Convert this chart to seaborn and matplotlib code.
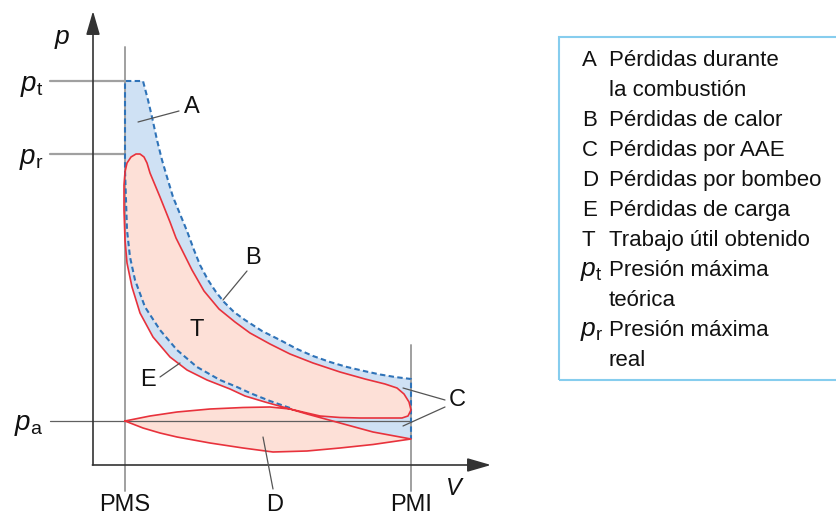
import numpy as np
import pandas as pd
import matplotlib
matplotlib.use("Agg")
import matplotlib.pyplot as plt
import seaborn as sns
from matplotlib.patches import Rectangle, Polygon

sns.set_theme(style="white")
plt.rcParams['font.family'] = ['Liberation Sans', 'DejaVu Sans']
plt.rcParams['mathtext.fontset'] = 'custom'
plt.rcParams['mathtext.rm'] = 'Liberation Sans'
plt.rcParams['mathtext.it'] = 'Liberation Sans:italic'

# ---------------- data (schematic p-V diagram) ----------------
V_PMS = 3.2
V_PMI = 31.8
p_t = 38.4
p_r = 31.1
p_a = 4.4

# real cycle: intake (PMS -> PMI), lower arc of pumping loop
intake_V = [3.2, 5.0, 6.7, 8.4, 11.7, 15.0, 18.0, 21.4, 24.7, 28.0, 31.8]
intake_p = [4.4, 3.7, 3.2, 2.8, 2.2, 1.7, 1.3, 1.4, 1.7, 2.05, 2.6]
# common compression start (PMI -> crossing point)
comp_line_V = [31.8, 28.0, 24.7, 21.4, 19.7]
comp_line_p = [2.6, 3.3, 4.2, 5.1, 5.6]
# real compression (crossing -> near PMS)
real_comp_V = [17.2, 15.2, 13.7, 11.4, 9.4, 7.7, 6.0, 4.7, 3.9, 3.4, 3.2, 3.1, 3.1]
real_comp_p = [6.3, 6.9, 7.6, 8.5, 9.5, 10.8, 12.8, 15.2, 17.8, 20.2, 22.5, 25.5, 28.0]
# real combustion + expansion + exhaust opening (back to crossing)
real_exp_V = [3.2, 3.4, 3.8, 4.3, 4.7, 5.1, 5.4, 5.7, 6.2, 6.7, 7.7, 8.3, 8.9, 9.9,
              11.1, 12.6, 14.2, 15.7, 17.7, 19.7, 22.0, 24.7, 27.2, 29.2, 30.4, 31.1,
              31.6, 31.8, 31.5, 30.9, 28.7, 26.7, 24.7, 22.7, 21.4, 19.7]
real_exp_p = [29.3, 30.2, 30.8, 31.1, 31.1, 30.8, 30.2, 29.2, 28.0, 26.8, 24.3, 22.7,
              21.5, 19.5, 17.4, 15.6, 14.3, 13.2, 12.1, 11.1, 10.2, 9.3, 8.6, 8.1,
              7.7, 7.1, 6.3, 5.5, 4.9, 4.7, 4.7, 4.7, 4.75, 4.9, 5.2, 5.6]
# exhaust stroke (crossing -> PMS), upper arc of pumping loop
exhaust_V = [17.7, 15.0, 11.7, 8.4, 5.7, 4.2, 3.2]
exhaust_p = [5.8, 5.75, 5.6, 5.3, 4.9, 4.6, 4.4]
# theoretical cycle
theo_comp_V = [19.7, 17.7, 15.7, 14.4, 12.7, 10.4, 8.4, 6.7, 5.2, 4.2, 3.7, 3.4, 3.3, 3.2, 3.2]
theo_comp_p = [5.7, 6.4, 7.2, 7.8, 8.5, 9.8, 11.5, 13.5, 15.8, 18.5, 20.8, 23.5, 26.5, 29.5, 38.4]
theo_exp_V = [5.0, 5.5, 5.9, 6.4, 6.9, 7.4, 8.0, 8.7, 9.4, 10.1, 10.7, 11.5, 12.3, 13.1,
              14.1, 15.2, 16.9, 18.7, 20.4, 22.0, 23.7, 25.4, 27.1, 28.7, 30.2, 31.8, 31.8]
theo_exp_p = [38.4, 36.5, 34.8, 32.5, 30.5, 28.8, 26.8, 25.1, 23.4, 21.5, 20.0, 18.5,
              17.3, 16.3, 15.3, 14.5, 13.4, 12.5, 11.6, 10.9, 10.3, 9.8, 9.4, 9.05,
              8.8, 8.6, 2.6]

level_labels = [r'$p_\mathrm{t}$', r'$p_\mathrm{r}$', r'$p_\mathrm{a}$']
x_labels = ['PMS', 'PMI']

legend_keys = ['A', 'B', 'C', 'D', 'E', 'T', r'$p_\mathrm{t}$', r'$p_\mathrm{r}$']
legend_texts = ['Pérdidas durante\nla combustión', 'Pérdidas de calor', 'Pérdidas por AAE',
                'Pérdidas por bombeo', 'Pérdidas de carga', 'Trabajo útil obtenido',
                'Presión máxima\nteórica', 'Presión máxima\nreal']

# ---------------- colours ----------------
BLUE_FILL = '#cfe1f4'
BLUE_LINE = '#2f73b8'
PINK_FILL = '#fde0d7'
RED_LINE = '#e8323c'
GRAY = '#a0a0a0'
DARK = '#333333'

W, H = 836, 517
fig = plt.figure(figsize=(W / 100, H / 100), dpi=100)
ax = fig.add_axes([0, 0, 1, 1])
ax.set_xlim(-9.3, 74.3)
ax.set_ylim(-5.2, 46.5)
ax.axis('off')

# ---------------- fills ----------------
blue_V = comp_line_V + real_comp_V + [V_PMS] + theo_exp_V
blue_p = comp_line_p + real_comp_p + [p_t] + theo_exp_p
ax.fill(blue_V, blue_p, color=BLUE_FILL, lw=0, zorder=1)

t_V = theo_comp_V[:-2] + real_exp_V
t_p = theo_comp_p[:-2] + real_exp_p
ax.fill(t_V, t_p, color=PINK_FILL, lw=0, zorder=2)

d_V = [comp_line_V[-1]] + exhaust_V + intake_V + comp_line_V
d_p = [comp_line_p[-1]] + exhaust_p + intake_p + comp_line_p
ax.fill(d_V, d_p, color=PINK_FILL, lw=0, zorder=2)

# ---------------- reference lines ----------------
ax.plot([V_PMS, V_PMS], [-2.6, 41.8], color=GRAY, lw=1.4, zorder=3)
ax.plot([V_PMI, V_PMI], [-2.6, 12.0], color=GRAY, lw=1.4, zorder=3)
ax.plot([-4.3, V_PMS], [p_t, p_t], color=GRAY, lw=1.6, zorder=3)
ax.plot([-4.3, V_PMS], [p_r, p_r], color=GRAY, lw=1.6, zorder=3)
ax.plot([-4.3, V_PMI], [p_a, p_a], color='#606060', lw=0.9, zorder=3)

# axes with arrows
ax.annotate('', xy=(0, 45.4), xytext=(0, 0),
            arrowprops=dict(arrowstyle='-|>,head_length=1.45,head_width=0.42',
                            mutation_scale=10, color=DARK, lw=1.2,
                            shrinkA=0, shrinkB=0), zorder=3)
ax.annotate('', xy=(39.8, 0), xytext=(-0.06, 0),
            arrowprops=dict(arrowstyle='-|>,head_length=1.45,head_width=0.42',
                            mutation_scale=10, color=DARK, lw=1.2,
                            shrinkA=0, shrinkB=0), zorder=3)

# ---------------- cycle lines ----------------
theo_df = pd.DataFrame({'V': theo_comp_V + theo_exp_V, 'p': theo_comp_p + theo_exp_p})
sns.lineplot(data=theo_df, x='V', y='p', sort=False, estimator=None, ax=ax,
             color=BLUE_LINE, lw=1.5, linestyle=(0, (2.6, 1.6)), zorder=4)

real_df = pd.DataFrame({
    'V': intake_V + comp_line_V[1:] + real_comp_V + real_exp_V + exhaust_V,
    'p': intake_p + comp_line_p[1:] + real_comp_p + real_exp_p + exhaust_p})
sns.lineplot(data=real_df, x='V', y='p', sort=False, estimator=None, ax=ax,
             color=RED_LINE, lw=1.2, zorder=5)
ax.set_xlim(-9.3, 74.3)
ax.set_ylim(-5.2, 46.5)
ax.axis('off')

# ---------------- annotation pointers ----------------
lead = dict(color='#555555', lw=0.9, zorder=6)
ax.plot([4.5, 8.6], [34.3, 35.4], **lead)      # A
ax.plot([13.0, 15.4], [16.5, 19.4], **lead)    # B
ax.plot([6.7, 8.7], [8.8, 10.2], **lead)       # E
ax.plot([31.0, 35.2], [7.7, 6.5], **lead)      # C upper
ax.plot([31.0, 35.2], [3.9, 5.8], **lead)      # C lower
ax.plot([17.0, 18.0], [2.8, -2.4], **lead)     # D

fs = 17
txt = dict(fontsize=fs, color='#111111', ha='center', va='center', zorder=7)
ax.text(9.9, 35.8, 'A', **txt)
ax.text(16.0, 20.7, 'B', **txt)
ax.text(10.4, 13.5, 'T', **txt)
ax.text(5.5, 8.5, 'E', **txt)
ax.text(36.4, 6.5, 'C', **txt)
ax.text(18.2, -4.0, 'D', **txt)
ax.text(V_PMS, -4.0, x_labels[0], **txt)
ax.text(V_PMI, -4.0, x_labels[1], **txt)
ax.text(-3.1, 42.6, r'$p$', **dict(txt, fontsize=19))
ax.text(36.2, -2.4, r'$V$', **txt)
for lab, lev in zip(level_labels, [p_t, p_r, p_a]):
    ax.text(-5.0, lev - 0.45, lab, fontsize=20, color='#111111', ha='right', va='center')

# ---------------- legend box ----------------
def fx(x):
    return x / W

def fy(y):
    return 1 - y / H

fig.patches.append(Rectangle((fx(559), fy(380)), fx(300), (380 - 37) / H,
                             transform=fig.transFigure, fill=False,
                             edgecolor='#86cdee', lw=1.5))
lfs = 16
row = 0
for key, text in zip(legend_keys, legend_texts):
    base = 66 + 30 * row
    kfs = 19 if key.startswith('$') else lfs
    fig.text(fx(580 if key.startswith('$') else 582), fy(base), key, fontsize=kfs,
             color='#111111', ha='left', va='baseline')
    for line in text.split('\n'):
        fig.text(fx(609), fy(66 + 30 * row), line, fontsize=lfs, color='#111111',
                 ha='left', va='baseline')
        row += 1

fig.savefig('out.png', dpi=100)
